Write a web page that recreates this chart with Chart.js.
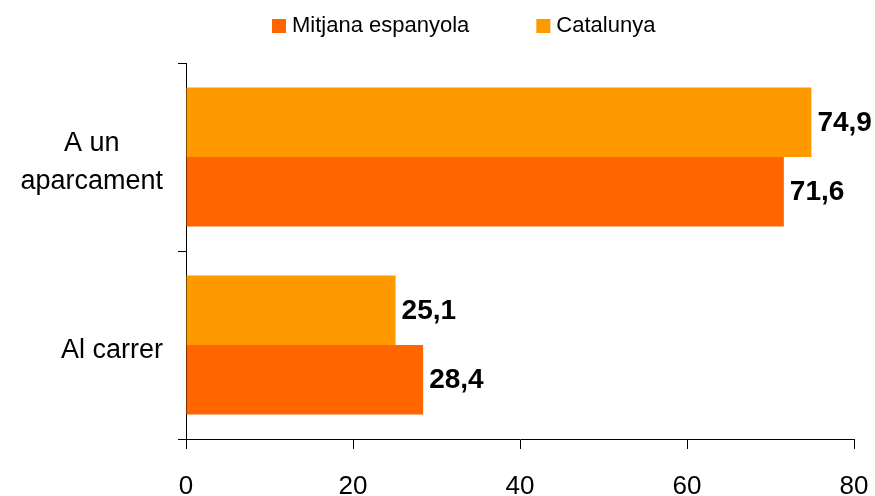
<!DOCTYPE html>
<html>
<head>
<meta charset="utf-8">
<script src="https://cdn.jsdelivr.net/npm/chart.js@4.4.1/dist/chart.umd.min.js"></script>
<style>
    html, body { margin: 0; padding: 0; background: #fff; }
    #wrap { width: 875px; height: 496px; }
</style>
</head>
<body>
<div id="wrap"><canvas id="myChart" width="875" height="496"></canvas></div>
<script>
const categories = [['A un', 'aparcament'], 'Al carrer'];
const catalunya = [74.9, 25.1];
const mitjana = [71.6, 28.4];
const seriesNames = ['Catalunya', 'Mitjana espanyola'];
const legendOrder = ['Mitjana espanyola', 'Catalunya'];
const xTicks = [0, 20, 40, 60, 80];

const FONT = '"Liberation Sans", Arial, Helvetica, sans-serif';

// value labels at bar ends, comma decimal
const valueLabels = {
    id: 'valueLabels',
    afterDatasetsDraw(chart) {
        const ctx = chart.ctx;
        ctx.save();
        ctx.font = 'bold 28px ' + FONT;
        ctx.fillStyle = '#000';
        ctx.textAlign = 'left';
        ctx.textBaseline = 'middle';
        chart.data.datasets.forEach((ds, i) => {
            chart.getDatasetMeta(i).data.forEach((bar, j) => {
                const txt = ds.data[j].toFixed(1).replace('.', ',');
                ctx.fillText(txt, bar.x + 6, bar.y + 1);
            });
        });
        ctx.restore();
    }
};

// category labels: block right aligned, lines centred inside the block
const catLabels = {
    id: 'catLabels',
    afterDraw(chart) {
        const ctx = chart.ctx;
        const y = chart.scales.y;
        const right = 163;
        const lh = 38;
        ctx.save();
        ctx.font = '27px ' + FONT;
        ctx.fillStyle = '#000';
        ctx.textAlign = 'center';
        ctx.textBaseline = 'alphabetic';
        chart.data.labels.forEach((lab, i) => {
            const lines = Array.isArray(lab) ? lab : [lab];
            const w = Math.max(...lines.map(l => ctx.measureText(l).width));
            const cx = right - w / 2;
            const cy = y.getPixelForValue(i);
            lines.forEach((l, k) => {
                const base = cy + 9.5 + 3 + (k - (lines.length - 1) / 2) * lh;
                ctx.fillText(l, cx, base);
            });
        });
        ctx.restore();
    }
};

// legend drawn by hand so the gap between items matches
const topLegend = {
    id: 'topLegend',
    afterDraw(chart, args, opts) {
        const ctx = chart.ctx;
        ctx.save();
        ctx.font = '22px ' + FONT;
        ctx.textBaseline = 'middle';
        ctx.textAlign = 'left';
        let x = opts.x;
        opts.order.forEach(name => {
            const ds = chart.data.datasets.find(d => d.label === name);
            ctx.fillStyle = ds.backgroundColor;
            ctx.fillRect(x, opts.y - 7, 14, 14);
            ctx.fillStyle = '#000';
            ctx.fillText(name, x + 20, opts.y);
            x += 20 + ctx.measureText(name).width + opts.gap;
        });
        ctx.restore();
    }
};

const ctx = document.getElementById('myChart').getContext('2d');

const myChart = new Chart(ctx, {
    type: 'bar',
    data: {
        labels: categories,
        datasets: [{
            label: seriesNames[0],
            data: catalunya,
            backgroundColor: '#FF9900'
        }, {
            label: seriesNames[1],
            data: mitjana,
            backgroundColor: '#FF6600'
        }]
    },
    options: {
        indexAxis: 'y',
        responsive: false,
        animation: false,
        categoryPercentage: 0.74,
        barPercentage: 1,
        layout: {
            padding: { top: 63, right: 0, left: 0, bottom: 0 }
        },
        plugins: {
            legend: { display: false },
            tooltip: { enabled: false },
            topLegend: { x: 272, y: 26, gap: 67, order: legendOrder }
        },
        scales: {
            x: {
                min: 0,
                max: 80,
                afterBuildTicks(scale) {
                    scale.ticks = xTicks.map(v => ({ value: v }));
                },
                afterFit(scale) {
                    scale.height = 57;
                    scale.paddingLeft = 0;
                    scale.paddingRight = 21;
                },
                border: { color: '#000', width: 1 },
                grid: {
                    drawOnChartArea: false,
                    color: '#000',
                    tickLength: 10
                },
                ticks: {
                    color: '#000',
                    padding: 22,
                    font: { family: FONT, size: 26 }
                }
            },
            y: {
                afterFit(scale) {
                    scale.width = 186;
                },
                border: { color: '#000', width: 1 },
                grid: {
                    drawOnChartArea: false,
                    color: '#000',
                    tickLength: 8
                },
                ticks: { display: false }
            }
        }
    },
    plugins: [valueLabels, catLabels, topLegend]
});
</script>
</body>
</html>
